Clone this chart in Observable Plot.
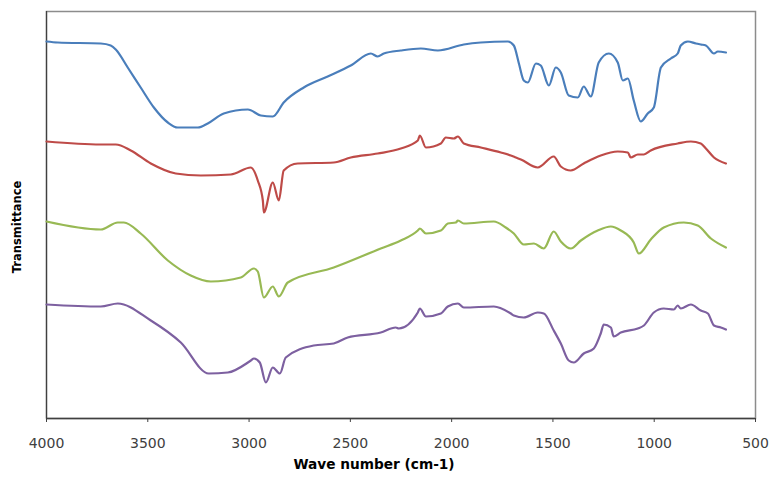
<!DOCTYPE html>
<html><head><meta charset="utf-8">
<script src="https://cdn.jsdelivr.net/npm/d3@7"></script>
<script src="https://cdn.jsdelivr.net/npm/@observablehq/plot@0.6"></script>
<style>html,body{margin:0;padding:0;background:#fff}#chart svg{display:block}</style>
</head><body><div id="chart"></div>
<script>
const xTicks = [4000, 3500, 3000, 2500, 2000, 1500, 1000, 500];
const xTitle = "Wave number (cm-1)";
const yTitle = "Transmittance";

const blueWn = [4000,3944,3732,3683,3658,3599,3535,3470,3401,3352,3253,3204,3125,3006,2942,2883,2829,2730,2612,2498,2399,2365,2335,2251,2152,2068,1940,1856,1723,1693,1668,1644,1624,1584,1560,1520,1486,1461,1422,1377,1348,1313,1274,1224,1180,1155,1130,1101,1066,1032,1002,967,918,884,869,834,794,770,745,705,686,646];
const blueT = [377,376,375,373,369,351,331,311,296,291,291,295,305,309,303,302,316,331,342,353,365,362,365,368,370,368,374,376,377,373,355,338,336,355,353,333,351,346,323,321,332,322,356,365,356,338,340,318,297,305,311,351,360,365,373,377,375,374,373,365,367,366];

const redWn = [4000,3732,3658,3584,3485,3362,3238,3090,2991,2957,2932,2927,2883,2853,2829,2760,2582,2498,2365,2251,2167,2157,2127,2053,2029,1989,1969,1940,1856,1757,1708,1683,1658,1575,1496,1461,1412,1348,1264,1180,1130,1116,1081,1051,1017,884,819,770,745,705,646];
const redT = [277,274,274,268,255,245,243,244,251,238,218,206,236,218,248,255,256,261,265,270,278,283,271,275,281,280,282,275,271,266,263,261,259,251,262,252,248,255,263,267,266,261,264,264,268,275,277,275,270,261,255];

const greenWn = [4000,3732,3648,3618,3535,3401,3288,3189,3041,2976,2957,2927,2883,2853,2809,2582,2350,2251,2167,2157,2127,2053,2019,1979,1969,1940,1792,1733,1693,1644,1594,1545,1496,1461,1412,1362,1279,1214,1165,1101,1076,1017,953,854,785,720,646];
const greenT = [197,189,196,196,185,158,143,137,141,150,147,121,132,122,136,151,170,178,188,190,185,188,195,196,198,195,197,191,185,174,175,170,187,177,170,178,188,192,188,176,165,179,191,196,193,180,171];

const purpleWn = [4000,3732,3648,3485,3337,3199,3105,2991,2976,2947,2917,2883,2848,2819,2681,2582,2513,2350,2276,2261,2167,2157,2127,2053,2019,1969,1940,1792,1708,1693,1644,1575,1545,1496,1461,1422,1397,1348,1298,1264,1249,1214,1200,1165,1081,1051,1002,953,903,884,869,819,770,735,705,671,646];
const purpleT = [114,112,115,98,76,45,46,58,60,56,36,51,45,61,73,75,81,86,91,90,106,110,102,105,112,115,111,112,105,103,101,106,105,88,75,58,56,65,70,85,94,91,82,86,90,93,106,110,109,113,110,114,108,105,93,91,89];

const toRows = (wn, t) => wn.map((w, i) => ({wn: w, t: t[i]}));
const lineStyle = {x: "wn", y: "t", strokeWidth: 2.2, curve: "monotone-x", strokeLinejoin: "round", strokeLinecap: "round"};

const chart = Plot.plot({
  width: 771,
  height: 477,
  marginLeft: 46,
  marginRight: 16,
  marginTop: 11,
  marginBottom: 59,
  style: {fontFamily: "'DejaVu Sans', sans-serif", fontSize: "14px", color: "#404040", background: "#fff"},
  x: {domain: [4000, 500]},
  y: {domain: [0, 407], axis: null},
  marks: [
    Plot.frame({stroke: "#8c8c8c", strokeWidth: 1.5}),
    Plot.ruleX([4000], {stroke: "#404040", strokeWidth: 1.2}),
    Plot.ruleY([0], {stroke: "#404040", strokeWidth: 1.5}),
    Plot.line(toRows(blueWn, blueT), {...lineStyle, stroke: "#4a7ebb"}),
    Plot.line(toRows(redWn, redT), {...lineStyle, stroke: "#be4b48"}),
    Plot.line(toRows(greenWn, greenT), {...lineStyle, stroke: "#98b954"}),
    Plot.line(toRows(purpleWn, purpleT), {...lineStyle, stroke: "#7d60a0"}),
    Plot.axisX({ticks: xTicks, tickSize: 4, tickPadding: 16, label: null, tickFormat: d => String(d), stroke: "#404040", fill: "#404040"}),
    Plot.text([xTitle], {frameAnchor: "bottom", dy: 50, dx: -27, fontWeight: "bold", fontSize: 13.7, fill: "#000", text: d => d}),
    Plot.text([yTitle], {frameAnchor: "left", textAnchor: "middle", dx: -29, dy: 12, rotate: -90, fontWeight: "bold", fontSize: 11.5, fill: "#000", text: d => d})
  ]
});
document.getElementById("chart").appendChild(chart);
</script>
</body></html>
